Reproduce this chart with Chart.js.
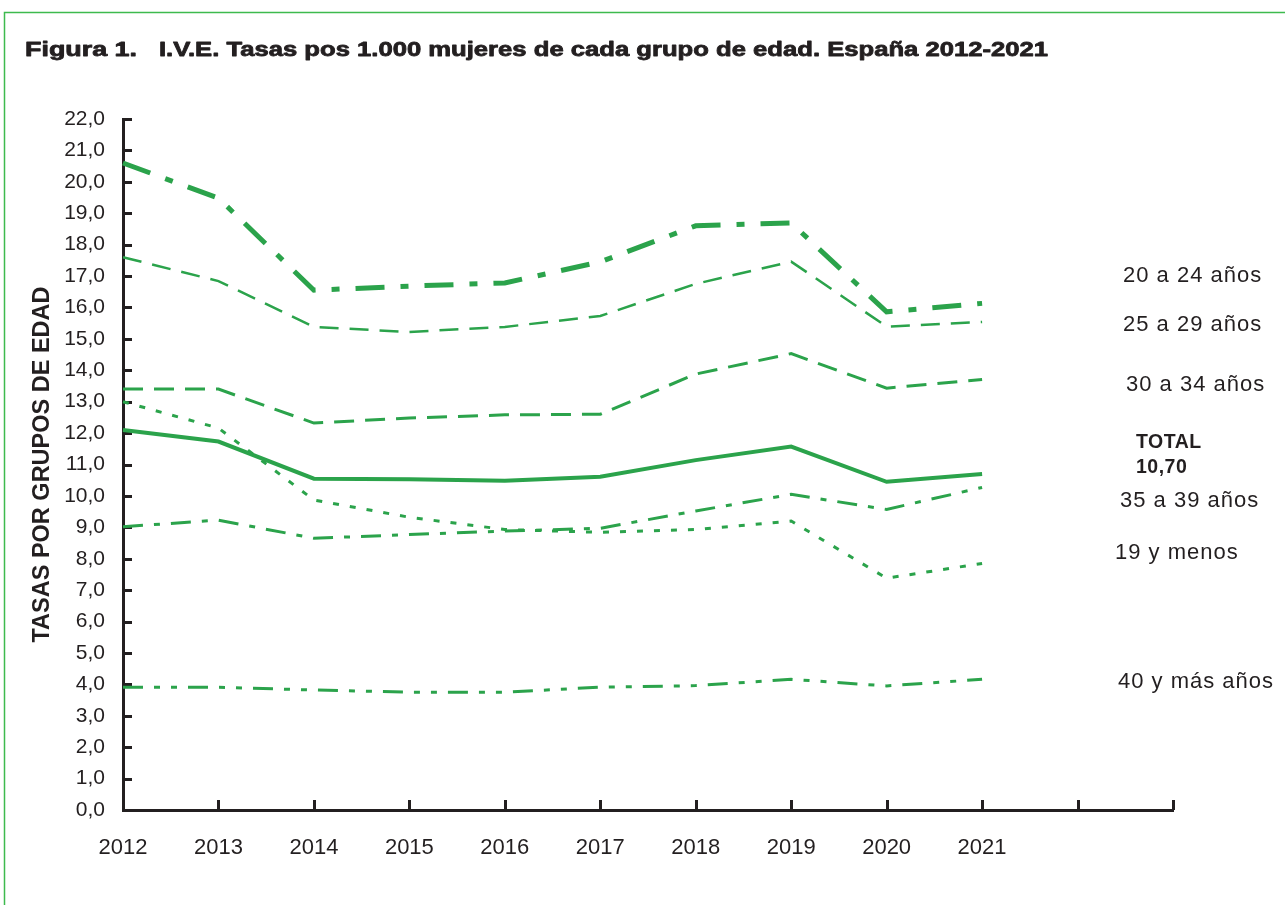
<!DOCTYPE html>
<html>
<head>
<meta charset="utf-8">
<script src="https://cdn.jsdelivr.net/npm/chart.js@4.4.1/dist/chart.umd.min.js"></script>
<style>
html,body{margin:0;padding:0;background:#fff;}
#wrap{width:1285px;height:905px;position:relative;}
canvas{display:block;}
</style>
</head>
<body>
<div id="wrap"><canvas id="c" width="1285" height="905"></canvas></div>
<script>
// ---------- DATA ----------
const years = ['2012','2013','2014','2015','2016','2017','2018','2019','2020','2021','',''];
const yMin = 0;
const yMax = 22;
const yStep = 1;

const g20_24   = [20.60, 19.48, 16.55, 16.68, 16.78, 17.45, 18.60, 18.69, 15.86, 16.13];
const g25_29   = [17.60, 16.84, 15.38, 15.22, 15.38, 15.73, 16.75, 17.46, 15.39, 15.54];
const g30_34   = [13.40, 13.40, 12.32, 12.48, 12.58, 12.60, 13.88, 14.53, 13.43, 13.71];
const gTotal   = [12.10, 11.73, 10.55, 10.53, 10.48, 10.61, 11.14, 11.57, 10.45, 10.70];
const g35_39   = [ 9.02,  9.23,  8.65,  8.77,  8.88,  8.97,  9.52, 10.05,  9.57, 10.27];
const g19menos = [13.00, 12.16,  9.87,  9.32,  8.93,  8.84,  8.93,  9.20,  7.38,  7.85];
const g40mas   = [ 3.91,  3.91,  3.82,  3.75,  3.75,  3.91,  3.96,  4.16,  3.95,  4.16];

const seriesNames = ['20 a 24 años','25 a 29 años','30 a 34 años','TOTAL','35 a 39 años','19 y menos','40 y más años'];
const titleMain = 'Figura 1.';
const titleRest = 'I.V.E. Tasas pos 1.000 mujeres de cada grupo de edad. España 2012-2021';
const yTitle = 'TASAS POR GRUPOS DE EDAD';
const totalValueLabel = '10,70';

// ---------- STYLE ----------
const GREEN = '#2ba34b';
const INK = '#231f20';
const FONT = '"Liberation Sans", Arial, Helvetica, sans-serif';

// right side labels: [text, level on y scale, x, bold]
const sideLabels = [
  [seriesNames[0], 17.00, 1123, false],
  [seriesNames[1], 15.44, 1123, false],
  [seriesNames[2], 13.53, 1126, false],
  [seriesNames[3], 11.69, 1136, true],
  [totalValueLabel, 10.90, 1136, true],
  [seriesNames[4],  9.85, 1120, false],
  [seriesNames[5],  8.17, 1115, false],
  [seriesNames[6],  4.07, 1118, false]
];

const decor = {
  id: 'decor',
  beforeDraw(chart) {
    const ctx = chart.ctx;
    ctx.save();
    ctx.fillStyle = '#fff';
    ctx.fillRect(0, 0, chart.width, chart.height);
    ctx.restore();
  },
  beforeDatasetsDraw(chart) {
    const ctx = chart.ctx;
    const xs = chart.scales.x, ys = chart.scales.y;
    const area = chart.chartArea;
    ctx.save();
    ctx.strokeStyle = INK;
    ctx.lineWidth = 3;
    ctx.beginPath();
    ys.ticks.forEach((t, i) => {
      const py = Math.round(ys.getPixelForTick(i)) + 0.5;
      ctx.moveTo(area.left, py);
      ctx.lineTo(area.left + 9, py);
    });
    xs.ticks.forEach((t, i) => {
      const px = Math.round(xs.getPixelForTick(i)) + 0.5;
      ctx.moveTo(px, area.bottom);
      ctx.lineTo(px, area.bottom - 10);
    });
    ctx.stroke();
    ctx.restore();
  },
  afterDraw(chart) {
    const ctx = chart.ctx;
    const ys = chart.scales.y;
    ctx.save();
    // frame
    ctx.strokeStyle = '#3dba4e';
    ctx.lineWidth = 1.5;
    ctx.beginPath();
    ctx.moveTo(4.5, chart.height);
    ctx.lineTo(4.5, 12.5);
    ctx.lineTo(chart.width, 12.5);
    ctx.stroke();

    // title
    ctx.fillStyle = INK;
    ctx.strokeStyle = INK;
    ctx.lineWidth = 0.8;
    ctx.lineJoin = 'round';
    ctx.textBaseline = 'alphabetic';
    ctx.textAlign = 'left';
    ctx.font = 'bold 20px ' + FONT;
    let w = ctx.measureText(titleMain).width;
    ctx.save();
    ctx.translate(25, 56);
    ctx.scale(112 / w, 1);
    ctx.fillText(titleMain, 0, 0);
    ctx.strokeText(titleMain, 0, 0);
    ctx.restore();
    w = ctx.measureText(titleRest).width;
    ctx.save();
    ctx.translate(159, 56);
    ctx.scale(889 / w, 1);
    ctx.fillText(titleRest, 0, 0);
    ctx.strokeText(titleRest, 0, 0);
    ctx.restore();

    // side labels
    ctx.textBaseline = 'middle';
    sideLabels.forEach(([txt, lvl, x, bold]) => {
      ctx.font = (bold ? 'bold 19.5px ' : '22px ') + FONT;
      ctx.letterSpacing = bold ? '0.5px' : '1px';
      ctx.fillText(txt, x, ys.getPixelForValue(lvl));
    });
    ctx.letterSpacing = '0px';
    ctx.restore();
  }
};

function ds(label, data, width, dash) {
  return {
    label, data,
    borderColor: GREEN,
    backgroundColor: GREEN,
    borderWidth: width,
    borderDash: dash,
    borderCapStyle: 'butt',
    borderJoinStyle: 'miter',
    pointRadius: 0,
    pointHoverRadius: 0,
    tension: 0,
    fill: false
  };
}

new Chart(document.getElementById('c'), {
  type: 'line',
  data: {
    labels: years,
    datasets: [
      ds(seriesNames[0], g20_24, 5, [29, 16, 8, 16]),
      ds(seriesNames[1], g25_29, 2.5, [19, 11]),
      ds(seriesNames[2], g30_34, 3, [20, 11]),
      ds(seriesNames[3], gTotal, 4, []),
      ds(seriesNames[4], g35_39, 3, [20, 11, 6, 11]),
      ds(seriesNames[5], g19menos, 3, [6, 11]),
      ds(seriesNames[6], g40mas, 3, [20, 11, 6, 11, 6, 11])
    ]
  },
  options: {
    responsive: false,
    animation: false,
    devicePixelRatio: 1,
    layout: { padding: { top: 119, right: 112, bottom: 0, left: 0 } },
    plugins: { legend: { display: false }, tooltip: { enabled: false }, title: { display: false } },
    scales: {
      x: {
        type: 'category',
        offset: false,
        grid: { display: true, drawOnChartArea: false, drawTicks: false },
        border: { display: true, color: INK, width: 3 },
        ticks: {
          color: INK, font: { family: FONT, size: 22 }, padding: 25,
          maxRotation: 0, autoSkip: false
        },
        afterFit(scale) { scale.height = 95; }
      },
      y: {
        min: yMin, max: yMax,
        grid: { display: true, drawOnChartArea: false, drawTicks: false },
        border: { display: true, color: INK, width: 3 },
        ticks: {
          stepSize: yStep, color: INK, font: { family: FONT, size: 21 }, padding: 18,
          callback: (v) => Number(v).toFixed(1).replace('.', ',')
        },
        title: {
          display: true, text: yTitle, color: INK,
          font: { family: FONT, size: 23.5, weight: 'bold' },
          padding: { top: 28, bottom: 0 }
        },
        afterFit(scale) { scale.width = 123; }
      }
    }
  },
  plugins: [decor]
});
</script>
</body>
</html>
